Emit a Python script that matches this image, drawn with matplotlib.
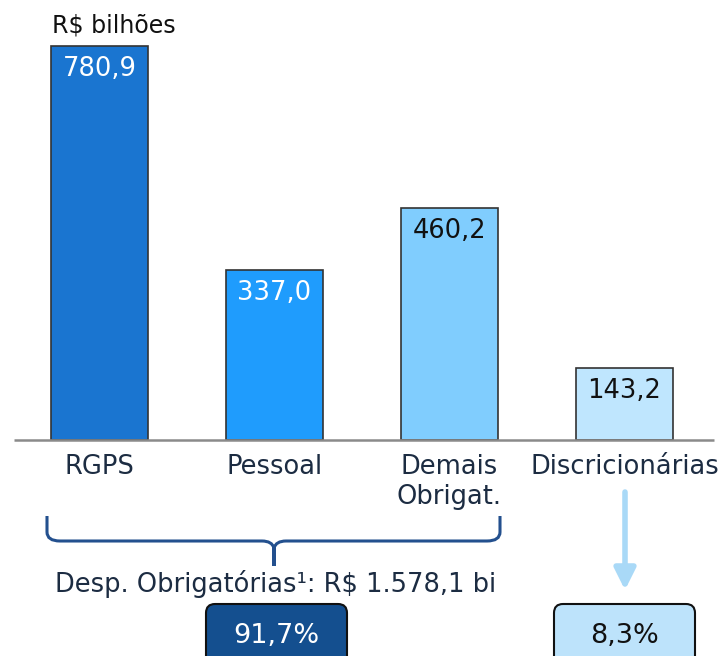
import matplotlib.pyplot as plt
from matplotlib.patches import FancyBboxPatch, PathPatch
from matplotlib.path import Path
import numpy as np

# data
categories = ['RGPS', 'Pessoal', 'Demais\nObrigat.', 'Discricionárias']
values = [780.9, 337.0, 460.2, 143.2]
value_labels = ['780,9', '337,0', '460,2', '143,2']
bar_colors = ['#1a75d0', '#1f9cfd', '#80cdfe', '#bfe6fe']
label_colors = ['white', 'white', '#111111', '#111111']
unit_label = 'R$ bilhões'
total_label = 'Desp. Obrigatórias¹: R$ 1.578,1 bi'
share_labels = ['91,7%', '8,3%']

W, H = 721, 656
fig = plt.figure(figsize=(W / 100, H / 100), dpi=100)

# bar axes (full figure, scaled so bars land where the reference has them)
ax = fig.add_axes([0, 0, 1, 1])
ax.axis('off')
x = np.arange(len(categories))
px_per_cat = 175.0
px_per_unit = 394.0 / 780.9
ax.set_xlim(-99.5 / px_per_cat, (W - 99.5) / px_per_cat)
ax.set_ylim(-216 / px_per_unit, (H - 216) / px_per_unit)

ax.bar(x, values, width=0.555, color=bar_colors, edgecolor='#333333', linewidth=1.2, zorder=2)
ax.hlines(0, -0.49, 3.51, color='#8a8a8a', linewidth=1.8, zorder=3)

for xi, v, lab, c in zip(x, values, value_labels, label_colors):
    ax.annotate(lab, xy=(xi, v), xytext=(0, -16.5), textcoords='offset points',
                ha='center', va='center', fontsize=18.5, color=c, zorder=4)

for xi, cat in zip(x, categories):
    ax.annotate(cat, xy=(xi, 0), xytext=(0, -10), textcoords='offset points',
                ha='center', va='top', fontsize=18.5, color='#1c2c42',
                linespacing=1.2)

# overlay in pixel units for the annotations
ov = fig.add_axes([0, 0, 1, 1], zorder=5)
ov.set_xlim(0, W)
ov.set_ylim(H, 0)
ov.axis('off')
ov.patch.set_alpha(0)

ov.text(52, 25, unit_label, ha='left', va='center', fontsize=17, color='#111111')

# brace under the mandatory spending bars
bc = '#23508e'
verts = [(47, 516), (47, 532), (47, 541), (60, 541),
         (262, 541), (272, 541), (274, 548), (274, 566),
         (274, 548), (276, 541), (286, 541),
         (487, 541), (500, 541), (500, 532), (500, 516)]
codes = [Path.MOVETO, Path.LINETO, Path.CURVE3, Path.CURVE3,
         Path.LINETO, Path.CURVE3, Path.CURVE3, Path.LINETO,
         Path.LINETO, Path.CURVE3, Path.CURVE3,
         Path.LINETO, Path.CURVE3, Path.CURVE3, Path.LINETO]
ov.add_patch(PathPatch(Path(verts, codes), fill=False, edgecolor=bc, linewidth=2.2))

ov.text(276, 584, total_label, ha='center', va='center', fontsize=18.5, color='#1c2c42')

# arrow under discretionary
ov.annotate('', xy=(625, 590), xytext=(625, 492),
            arrowprops=dict(arrowstyle='-|>', color='#a9d9f7', lw=4, mutation_scale=32,
                            shrinkA=0, shrinkB=0))

# share boxes
ov.add_patch(FancyBboxPatch((206, 604), 141, 70, boxstyle='round,pad=0,rounding_size=9',
                            facecolor='#144f8f', edgecolor='#111111', linewidth=1.5))
ov.add_patch(FancyBboxPatch((554, 604), 141, 70, boxstyle='round,pad=0,rounding_size=9',
                            facecolor='#bde3fb', edgecolor='#111111', linewidth=1.5))
ov.text(276, 636, share_labels[0], ha='center', va='center', fontsize=19.5, color='white')
ov.text(625, 636, share_labels[1], ha='center', va='center', fontsize=19.5, color='#111111')

fig.savefig('out.png', dpi=100)
